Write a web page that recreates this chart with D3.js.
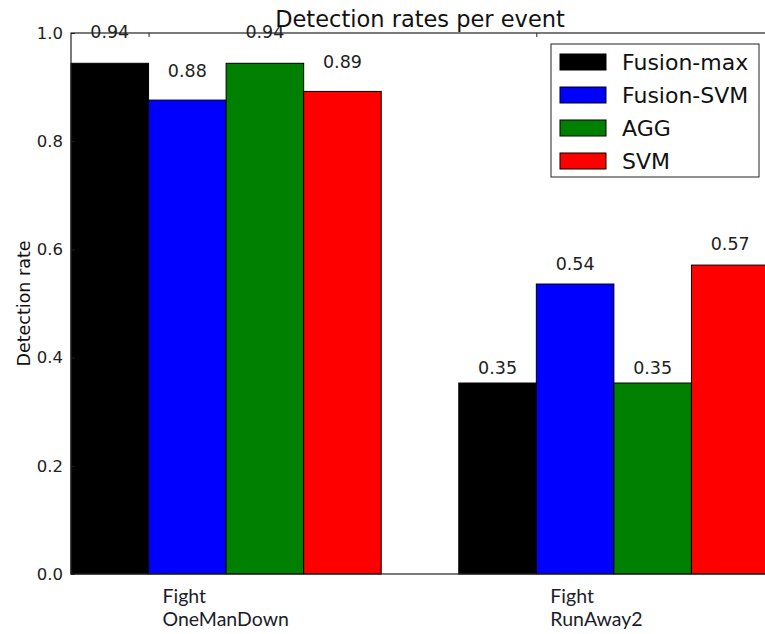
<!DOCTYPE html>
<html>
<head>
<meta charset="utf-8">
<script src="https://cdn.jsdelivr.net/npm/d3@7"></script>
<style>
  html, body { margin: 0; padding: 0; background: #fff; }
  svg { display: block; }
</style>
</head>
<body>
<svg id="chart" width="765" height="634"></svg>
<script>
// Detection rate per event, one series per method
const events = [["Fight", "OneManDown"], ["Fight", "RunAway2"]];
const methods = ["Fusion-max", "Fusion-SVM", "AGG", "SVM"];
const colors = ["#000000", "#0000ff", "#008000", "#ff0000"];
const fusionMax = [0.944, 0.353];
const fusionSvm = [0.876, 0.536];
const agg = [0.944, 0.353];
const svmRates = [0.892, 0.571];
const yTicks = [0.0, 0.2, 0.4, 0.6, 0.8, 1.0];

const series = [fusionMax, fusionSvm, agg, svmRates];
const barWidth = 0.2;

const svg = d3.select("#chart");
const plotLeft = 71, plotRight = 769, plotTop = 33, plotBottom = 574;

const x = d3.scaleLinear().domain([0, 1.8]).range([plotLeft, plotRight]);
const y = d3.scaleLinear().domain([0, 1]).range([plotBottom, plotTop]);

const axisColor = "#222";
const font = "'DejaVu Sans', sans-serif";

// bars
const bars = [];
series.forEach((vals, m) => {
  vals.forEach((v, e) => bars.push({ m, e, v, x0: e + m * barWidth }));
});

svg.append("g").selectAll("rect").data(bars).join("rect")
  .attr("x", d => x(d.x0))
  .attr("y", d => y(d.v))
  .attr("width", d => x(d.x0 + barWidth) - x(d.x0))
  .attr("height", d => y(0) - y(d.v))
  .attr("fill", d => colors[d.m])
  .attr("stroke", "#000")
  .attr("stroke-width", 1);

// y axis (left), ticks pointing inward
const yAxisL = d3.axisLeft(y).tickValues(yTicks).tickFormat(d3.format(".1f"))
  .tickSizeInner(-4).tickSizeOuter(0).tickPadding(8);
const gyl = svg.append("g").attr("transform", `translate(${plotLeft},0)`).call(yAxisL);
gyl.select(".domain").remove();
gyl.selectAll("line").attr("stroke", axisColor);
gyl.selectAll("text").attr("font-family", font).attr("font-size", 16.5).attr("fill", "#222");

// y ticks on the right edge, inward
const yAxisR = d3.axisRight(y).tickValues(yTicks).tickFormat("")
  .tickSizeInner(-4).tickSizeOuter(0);
const gyr = svg.append("g").attr("transform", `translate(${plotRight},0)`).call(yAxisR);
gyr.select(".domain").remove();
gyr.selectAll("line").attr("stroke", axisColor);

// x ticks at group marks, top, inward
const xTickVals = events.map((_, i) => i + barWidth);
const xAxisT = d3.axisTop(x).tickValues(xTickVals).tickFormat("").tickSizeInner(-4).tickSizeOuter(0);
const gxt = svg.append("g").attr("transform", `translate(0,${plotTop})`).call(xAxisT);
gxt.select(".domain").remove();
gxt.selectAll("line").attr("stroke", axisColor);

// frame
svg.append("rect")
  .attr("x", plotLeft).attr("y", plotTop)
  .attr("width", plotRight - plotLeft).attr("height", plotBottom - plotTop)
  .attr("fill", "none").attr("stroke", axisColor).attr("stroke-width", 1.2);

// value labels above each bar
svg.append("g").selectAll("text").data(bars).join("text")
  .attr("x", d => x(d.x0 + barWidth / 2))
  .attr("y", d => y(1.05 * d.v) + 0.5)
  .attr("text-anchor", "middle")
  .attr("font-family", font)
  .attr("font-size", 17.5)
  .attr("fill", "#222")
  .text(d => d.v.toFixed(2));

// event labels under each group
const evG = svg.append("g");
events.forEach((lines, i) => {
  const lx = x(i + barWidth) + 14;
  const t = evG.append("text")
    .attr("x", lx)
    .attr("y", 603)
    .attr("font-family", "Lato, 'Open Sans', sans-serif")
    .attr("font-size", 19.5)
    .attr("fill", "#1c1c2c");
  lines.forEach((ln, k) => {
    t.append("tspan").attr("x", lx).attr("dy", k === 0 ? 0 : 23).text(ln);
  });
});

// title
svg.append("text")
  .attr("x", (plotLeft + plotRight) / 2)
  .attr("y", 27)
  .attr("text-anchor", "middle")
  .attr("font-family", font)
  .attr("font-size", 22.5)
  .attr("fill", "#111")
  .text("Detection rates per event");

// y label
svg.append("text")
  .attr("transform", `translate(30,${(plotTop + plotBottom) / 2}) rotate(-90)`)
  .attr("text-anchor", "middle")
  .attr("font-family", font)
  .attr("font-size", 17.5)
  .attr("fill", "#111")
  .text("Detection rate");

// legend
const lg = svg.append("g");
lg.append("rect")
  .attr("x", 551).attr("y", 44).attr("width", 208).attr("height", 133)
  .attr("fill", "#fff").attr("stroke", axisColor).attr("stroke-width", 1);
methods.forEach((name, i) => {
  const cy = 62 + i * 33;
  lg.append("rect")
    .attr("x", 560).attr("y", cy - 8).attr("width", 46).attr("height", 16)
    .attr("fill", colors[i]).attr("stroke", "#000").attr("stroke-width", 1);
  lg.append("text")
    .attr("x", 622).attr("y", cy + 8)
    .attr("font-family", font)
    .attr("font-size", 22)
    .attr("fill", "#111")
    .text(name);
});
</script>
</body>
</html>
